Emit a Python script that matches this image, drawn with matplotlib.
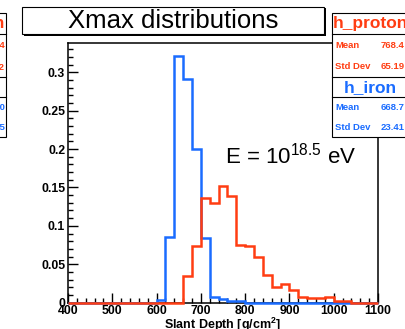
import matplotlib
matplotlib.use("Agg")
from matplotlib import pyplot as plt
from matplotlib import patches
import numpy as np

# histogram contents, 20 g/cm2 bins from 400 to 1100
edges = np.arange(400, 1101, 20)
proton = [0, 0, 0, 0, 0, 0, 0, 0, 0, 0, 0, 0, 0,
          0.035, 0.074, 0.136, 0.130, 0.152, 0.139, 0.075, 0.074, 0.060,
          0.036, 0.020, 0.024, 0.016, 0.007, 0.006, 0.006, 0.008, 0.002,
          0.002, 0, 0, 0]
iron = [0, 0, 0, 0, 0, 0, 0, 0, 0, 0,
        0.003, 0.086, 0.321, 0.291, 0.200, 0.084, 0.007, 0.005, 0.002,
        0.002, 0, 0, 0, 0, 0, 0, 0, 0, 0, 0, 0, 0, 0, 0, 0]

xticks = [400, 500, 600, 700, 800, 900, 1000, 1100]
yticks = [0, 0.05, 0.1, 0.15, 0.2, 0.25, 0.3]
ytick_labels = ["0", "0.05", "0.1", "0.15", "0.2", "0.25", "0.3"]

stat_names = ["h_proton", "h_iron"]
stat_mean = ["768.4", "668.7"]
stat_std = ["65.19", "23.41"]

RED = "#ff3d12"
BLUE = "#1a6cff"
W, H = 405, 329

plt.rcParams["font.family"] = ["Liberation Sans", "DejaVu Sans"]
plt.rcParams["mathtext.fontset"] = "custom"
plt.rcParams["mathtext.rm"] = "Liberation Sans"
plt.rcParams["mathtext.bf"] = "Liberation Sans:bold"


def fx(x):
    return x / W


def fy(y):
    return 1 - y / H


def box(fig, x0, y0, x1, y1, shadow=True):
    if shadow:
        fig.add_artist(patches.Rectangle((fx(x0 + 1.5), fy(y1 + 1.5)), (x1 - x0) / W, (y1 - y0) / H,
                                         transform=fig.transFigure, fc="black", ec="none", zorder=4))
    fig.add_artist(patches.Rectangle((fx(x0), fy(y1)), (x1 - x0) / W, (y1 - y0) / H,
                                     transform=fig.transFigure, fc="white", ec="black", lw=0.8, zorder=5))


def hline(fig, x0, x1, y):
    fig.add_artist(plt.Line2D([fx(x0), fx(x1)], [fy(y), fy(y)], transform=fig.transFigure,
                              color="black", lw=0.8, zorder=6))


def main():
    fig = plt.figure(figsize=(4.05, 3.29), dpi=100)
    ax = fig.add_axes([68 / W, (H - 302.7) / H, 310 / W, 259.7 / H])

    ax.stairs(iron, edges, color=BLUE, lw=1.8, clip_on=False, zorder=3)
    ax.stairs(proton, edges, color=RED, lw=1.8, clip_on=False, zorder=4)

    ax.set_xlim(400, 1100)
    ax.set_ylim(0, 0.338)
    ax.set_xticks(xticks)
    ax.set_xticklabels([str(t) for t in xticks], fontweight="bold", fontsize=8.8)
    ax.set_yticks(yticks)
    ax.set_yticklabels(ytick_labels, fontweight="bold", fontsize=8.8)
    ax.set_xticks(np.arange(400, 1101, 20), minor=True)
    ax.set_yticks(np.arange(0, 0.338, 0.01), minor=True)
    ax.tick_params(which="both", direction="in", top=False, right=False, width=1)
    ax.tick_params(which="major", length=7.5)
    ax.tick_params(which="minor", length=3.5)
    ax.tick_params(axis="x", pad=1.5)
    ax.tick_params(axis="y", pad=2)
    for s in ax.spines.values():
        s.set_linewidth(1.1)

    ax.set_xlabel("Slant Depth [g/cm$^{\\mathbf{2}}$]", fontweight="bold", fontsize=9)
    ax.xaxis.set_label_coords(0.5, -0.052)

    ax.text(0.505, 0.537, "E = 10$^{\\mathrm{18.5}}$ eV", transform=ax.transAxes,
            fontsize=16, ha="left", va="baseline")

    # title box
    box(fig, 22, 7, 324, 34)
    fig.text(fx(173), fy(21), "Xmax distributions", ha="center", va="center",
             fontsize=18.5, zorder=7)

    # stats boxes on the right
    box(fig, 331.7, 13.3, 430, 136.7)
    for y in [34.3, 77.3, 97.3]:
        hline(fig, 331.7, 430, y)
    rows = [(13.3, 34.3, 77.3, RED), (77.3, 97.3, 136.7, BLUE)]
    for i, (top, mid, bot, col) in enumerate(rows):
        fig.text(fx(370), fy((top + mid) / 2), stat_names[i], ha="center", va="center",
                 fontsize=12.5, fontweight="bold", color=col, zorder=7)
        r1 = mid + (bot - mid) * 0.27
        r2 = mid + (bot - mid) * 0.76
        fig.text(fx(335), fy(r1), "Mean", ha="left", va="center", fontsize=6.8,
                 fontweight="bold", color=col, zorder=7)
        fig.text(fx(404.5), fy(r1), stat_mean[i], ha="right", va="center", fontsize=6.8,
                 fontweight="bold", color=col, zorder=7)
        fig.text(fx(335), fy(r2), "Std Dev", ha="left", va="center", fontsize=6.8,
                 fontweight="bold", color=col, zorder=7)
        fig.text(fx(404.5), fy(r2), stat_std[i], ha="right", va="center", fontsize=6.8,
                 fontweight="bold", color=col, zorder=7)

    # cut-off stats box of the neighbouring pad
    box(fig, -60, 13.3, 6.3, 136.7, shadow=False)
    for y in [34.3, 77.3, 97.3]:
        hline(fig, -60, 6.3, y)
    fig.text(fx(5.5), fy(23.8), "h_proton", ha="right", va="center", fontsize=12.5,
             fontweight="bold", color=RED, zorder=7)
    fig.text(fx(5), fy(46), "774.4", ha="right", va="center", fontsize=6.8, fontweight="bold", color=RED, zorder=7)
    fig.text(fx(5), fy(67), "66.02", ha="right", va="center", fontsize=6.8, fontweight="bold", color=RED, zorder=7)
    fig.text(fx(5), fy(107), "676.0", ha="right", va="center", fontsize=6.8, fontweight="bold", color=BLUE, zorder=7)
    fig.text(fx(5), fy(127), "24.85", ha="right", va="center", fontsize=6.8, fontweight="bold", color=BLUE, zorder=7)

    fig.savefig("out.png", dpi=100)


if __name__ == "__main__":
    main()
